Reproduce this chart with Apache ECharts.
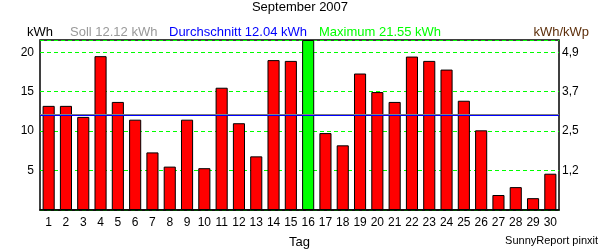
<!DOCTYPE html>
<html>
<head>
<meta charset="utf-8">
<script src="https://cdn.jsdelivr.net/npm/echarts@6/dist/echarts.min.js"></script>
<style>html,body{margin:0;padding:0;background:#fff}#c{width:600px;height:250px}</style>
</head>
<body>
<div id="c"></div>
<script>
const days = Array.from({length:30},(_,i)=>String(i+1));
const dailyKWh = [13.2,13.2,11.8,19.5,13.7,11.45,7.3,5.5,11.45,5.3,
                  15.5,11.0,6.8,19.0,18.9,21.55,9.75,8.2,17.3,14.95,
                  13.7,19.45,18.9,17.8,13.85,10.1,1.9,2.9,1.5,4.6];
const sollValue = 12.12;
const avgValue = 12.04;
const maxValue = 21.55;
const leftTicks = [5,10,15,20];
const rightTickLabels = ["1,2","2,5","3,7","4,9"];

const FONT = '"Liberation Sans", Arial, sans-serif';
const chart = echarts.init(document.getElementById('c'), null, {renderer:'canvas'});
const yBase = {
  type:'value', min:0, max:maxValue, interval:5,
  axisLine:{show:false}, axisTick:{show:false}
};
chart.setOption({
  animation:false,
  backgroundColor:'#fff',
  grid:{left:40, top:40, width:519, height:170, show:true, borderColor:'#000', borderWidth:1.5,
        backgroundColor:'transparent', outerBoundsMode:'none', containLabel:false},
  xAxis:{
    type:'category', data:days,
    axisTick:{show:false},
    axisLine:{show:true, lineStyle:{color:'#000', width:1.5}},
    axisLabel:{color:'#000', fontSize:12, fontFamily:FONT, margin:7, interval:0},
    name:'Tag', nameLocation:'middle', nameGap:26,
    nameTextStyle:{color:'#000', fontSize:13, fontFamily:FONT}
  },
  yAxis:[
    Object.assign({}, yBase, {
      position:'left',
      axisLabel:{color:'#000', fontSize:12, fontFamily:FONT, margin:6, showMinLabel:false, showMaxLabel:false,
        formatter:v=>leftTicks.indexOf(v)>=0?String(v):''},
      splitLine:{show:true, lineStyle:{color:'#00ff00', type:[4,3], width:1.2}}
    }),
    Object.assign({}, yBase, {
      position:'right',
      axisLabel:{color:'#000', fontSize:12, fontFamily:FONT, margin:3, showMinLabel:false, showMaxLabel:false,
        formatter:v=>{const i=leftTicks.indexOf(v);return i>=0?rightTickLabels[i]:'';}},
      splitLine:{show:false}
    })
  ],
  series:[{
    type:'bar', data:dailyKWh, barCategoryGap:'30%',
    itemStyle:{
      color:p=>p.value===maxValue?'#00ff00':'#ff0000',
      borderColor:'#000', borderWidth:1
    },
    markLine:{
      silent:true, symbol:'none', label:{show:false},
      data:[
        {yAxis:avgValue, lineStyle:{color:'#0000ff', width:1.2, type:'solid'}},
        {yAxis:sollValue, lineStyle:{color:'#808080', width:1.2, type:'solid'}}
      ],
      z:10
    }
  }],
  graphic:[
    {type:'text', left:'center', top:1, style:{text:'September 2007', font:'13px '+FONT, fill:'#000'}},
    {type:'text', left:27, top:26, style:{text:'kWh', font:'13px '+FONT, fill:'#000'}},
    {type:'text', left:70, top:26, style:{text:'Soll '+sollValue.toFixed(2)+' kWh', font:'13px '+FONT, fill:'#999999'}},
    {type:'text', left:169, top:26, style:{text:'Durchschnitt '+avgValue.toFixed(2)+' kWh', font:'13px '+FONT, fill:'#0000ff'}},
    {type:'text', left:319, top:26, style:{text:'Maximum '+maxValue.toFixed(2)+' kWh', font:'13px '+FONT, fill:'#00ff00'}},
    {type:'text', right:11, top:26, style:{text:'kWh/kWp', font:'13px '+FONT, fill:'#5c2e0a'}},
    {type:'text', right:2, top:235, style:{text:'SunnyReport pinxit', font:'11px '+FONT, fill:'#000'}}
  ]
});
</script>
</body>
</html>
